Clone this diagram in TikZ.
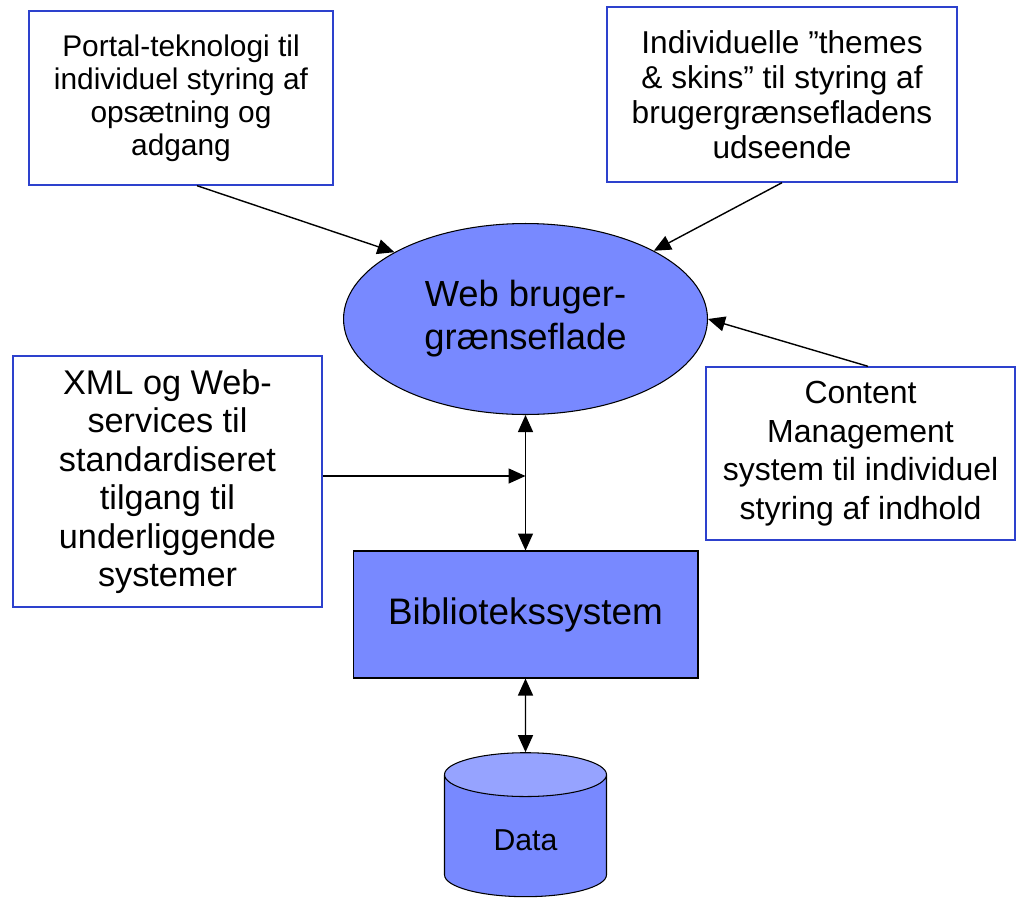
\documentclass[tikz,border=0pt]{standalone}
\usepackage{fontspec}
\setmainfont{Liberation Sans}
\usetikzlibrary{positioning,shapes.geometric,arrows.meta}
\definecolor{uiblue}{RGB}{120,137,255}
\definecolor{uitop}{RGB}{150,163,255}
\definecolor{boxblue}{RGB}{45,65,205}

\begin{document}
\begin{tikzpicture}[%
    x=0.02cm,
    y=-0.02cm,
    ->,
    >={Triangle[length=.34cm,width=.3cm]},
    line width=.8pt,
    infobox/.style={%
      rectangle,
      draw=boxblue,
      align=center,
      font=\fontsize{18}{20}\selectfont},
    webui/.style={%
      ellipse,
      draw,
      fill=uiblue,
      line width=.6pt,
      inner sep=0pt,
      minimum width=7.28cm,
      minimum height=3.82cm,
      align=center,
      font=\fontsize{20.7}{24.5}\selectfont},
    sysbox/.style={%
      rectangle,
      draw,
      fill=uiblue,
      line width=.6pt,
      minimum width=6.9cm,
      minimum height=2.54cm,
      font=\fontsize{21}{25}\selectfont},
    datastore/.style={%
      cylinder,
      shape border rotate=90,
      aspect=.58,
      draw,
      line width=.6pt,
      cylinder uses custom fill,
      cylinder body fill=uiblue,
      cylinder end fill=uitop,
      minimum width=3.24cm,
      minimum height=2.88cm,
      font=\fontsize{17.2}{20}\selectfont}
    ]
    \useasboundingbox (0,0) rectangle (1016,903);
    \node[infobox, minimum width=6.08cm, minimum height=3.48cm,
          font=\fontsize{17}{18.8}\selectfont] (portal) at (181,98)
      {Portal-teknologi til\\individuel styring af\\opsætning og\\adgang};
    \node[infobox, minimum width=7cm, minimum height=3.5cm] (themes) at (782,94.5)
      {Individuelle ”themes\\\& skins” til styring af\\brugergrænsefladens\\udseende};
    \node[webui] (web) at (525.5,319) {Web bruger-\\grænseflade};
    \node[infobox, minimum width=6.18cm, minimum height=5.02cm,
          font=\fontsize{19.5}{21.9}\selectfont] (xml) at (167.5,481.5)
      {XML og Web-\\services til\\standardiseret\\tilgang til\\underliggende\\systemer};
    \node[infobox, minimum width=6.18cm, minimum height=3.46cm,
          font=\fontsize{18.2}{22}\selectfont] (cms) at (860.5,453.5)
      {Content\\Management\\system til individuel\\styring af indhold};
    \node[sysbox] (bib) at (525.5,614.5) {Bibliotekssystem};
    \node[datastore] (data) at (525.5,840) {Data};
    \coordinate (join) at (525.5,476);
    \path ([xshift=.32cm]portal.south) edge (web.153)
          (themes.south) edge (web.28)
          ([xshift=.15cm]cms.north) edge (web.east)
          (xml.east |- join) edge (join)
          (web.south) edge [<->] (bib.north)
          (bib.south) edge [<->] (data.north);
  \end{tikzpicture}
\end{document}
